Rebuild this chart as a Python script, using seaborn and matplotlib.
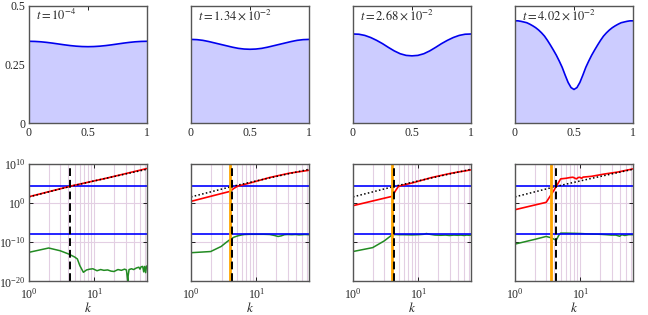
import numpy as np
import matplotlib
matplotlib.use("Agg")
import matplotlib.pyplot as plt
import matplotlib.ticker as mticker
import seaborn as sns

sns.set_theme(style="ticks")
plt.rcParams["font.family"] = ["Liberation Serif", "DejaVu Serif"]
plt.rcParams["mathtext.fontset"] = "stix"
plt.rcParams["font.size"] = 9

# ---------------- data ----------------
labels = [r"$t = 10^{-4}$", r"$t = 1.34\times10^{-2}$",
          r"$t = 2.68\times10^{-2}$", r"$t = 4.02\times10^{-2}$"]

# interface height profiles (top row)
x21 = [0.0, 0.05, 0.1, 0.15, 0.2, 0.25, 0.3, 0.35, 0.4, 0.45, 0.5,
       0.55, 0.6, 0.65, 0.7, 0.75, 0.8, 0.85, 0.9, 0.95, 1.0]
h1 = [0.349, 0.3484, 0.3468, 0.3443, 0.3411, 0.3375, 0.3339, 0.3307, 0.3282, 0.3266, 0.326,
      0.3266, 0.3282, 0.3307, 0.3339, 0.3375, 0.3411, 0.3443, 0.3468, 0.3484, 0.349]
h2 = [0.357, 0.356, 0.353, 0.348, 0.342, 0.336, 0.330, 0.324, 0.319, 0.316, 0.315,
      0.316, 0.319, 0.324, 0.330, 0.336, 0.342, 0.348, 0.353, 0.356, 0.357]
h3 = [0.380, 0.379, 0.374, 0.365, 0.353, 0.339, 0.323, 0.308, 0.296, 0.289, 0.287,
      0.289, 0.296, 0.308, 0.323, 0.339, 0.353, 0.365, 0.374, 0.379, 0.380]
x41 = [0.0, 0.025, 0.05, 0.075, 0.1, 0.125, 0.15, 0.175, 0.2, 0.225, 0.25,
       0.275, 0.3, 0.325, 0.35, 0.375, 0.4, 0.425, 0.45, 0.475, 0.5,
       0.525, 0.55, 0.575, 0.6, 0.625, 0.65, 0.675, 0.7, 0.725, 0.75,
       0.775, 0.8, 0.825, 0.85, 0.875, 0.9, 0.925, 0.95, 0.975, 1.0]
h4 = [0.436, 0.436, 0.434, 0.431, 0.428, 0.422, 0.415, 0.407, 0.397, 0.385, 0.371,
      0.353, 0.333, 0.312, 0.290, 0.265, 0.238, 0.205, 0.174, 0.152, 0.144,
      0.152, 0.174, 0.205, 0.238, 0.265, 0.290, 0.312, 0.333, 0.353, 0.371,
      0.385, 0.397, 0.407, 0.415, 0.422, 0.428, 0.431, 0.434, 0.436, 0.436]
profiles = [(x21, h1), (x21, h2), (x21, h3), (x41, h4)]

# spectra (bottom row), values are log10
k_ref = [1, 4.6, 16, 64]
ref_log = [1.55, 4.36, 6.4, 8.6]

k_red1 = [1, 4.6, 16, 64]
red1 = [1.6, 4.4, 6.4, 8.8]
k_red2 = [1, 2, 3, 4, 4.5, 5.2, 8, 16, 32, 64]
red2 = [0.41, 1.7, 2.45, 2.97, 3.7, 4.3, 5.1, 6.5, 7.6, 8.35]
k_red3 = [1, 2, 3, 4, 4.5, 5, 8, 16, 32, 64]
red3 = [-0.69, 0.51, 1.21, 1.7, 3.2, 4.3, 5.1, 6.5, 7.6, 8.45]
k_red4 = [1, 2, 3, 4, 5, 6, 7, 7.7, 8.7, 9.3, 9.8, 10.5, 11, 14.8, 23.6, 37.7, 64]
red4 = [-1.72, -0.53, 0.16, 3.4, 6.15, 6.3, 6.5, 6.57, 6.15, 6.5, 6.55, 6.3, 6.6, 6.8, 7.4, 7.9, 8.7]

k_grn1 = [1, 2, 3, 4, 4.35, 5, 5.5, 6, 6.8, 7.6, 8.5, 9.5, 11, 12.5, 14, 16, 18, 20, 23, 26,
          29, 31, 32.5, 33, 34, 37, 40, 44, 48, 50, 52, 55, 57, 59, 61, 63, 64]
grn1 = [-12.6, -11.5, -12.2, -13.0, -13.3, -13.8, -14.3, -16.0, -17.7, -17.1, -16.9, -16.8,
        -17.3, -17.0, -17.2, -17.1, -17.4, -17.5, -17.0, -17.2, -16.9, -17.1, -20.0, -18.5,
        -17.0, -16.8, -17.0, -16.6, -16.4, -16.9, -16.3, -16.2, -17.6, -16.2, -17.8, -16.1, -16.3]
k_grn2 = [1, 2, 2.9, 3.5, 4.1, 4.6, 5.2, 6, 6.6, 8, 10, 13, 16, 19, 21.5, 24, 27, 30, 35, 40,
          45, 50, 55, 64]
grn2 = [-12.7, -12.4, -11.1, -10.0, -9.15, -8.7, -8.4, -8.15, -8.05, -8.0, -8.0, -8.0, -8.05,
        -8.3, -8.55, -8.4, -8.1, -8.05, -8.1, -8.05, -8.15, -8.1, -8.05, -8.1]
k_grn3 = [1, 2, 3, 4, 4.5, 5, 6, 8, 10, 12, 13.3, 15, 18, 22, 26, 30, 35, 40, 45, 50, 55, 60, 64]
grn3 = [-12.4, -11.4, -9.7, -8.1, -8.05, -8.1, -8.1, -8.15, -8.1, -8.0, -7.8, -8.0, -8.2,
        -8.25, -8.2, -8.3, -8.2, -8.25, -8.2, -8.3, -8.2, -8.25, -8.2]
k_grn4 = [1, 2, 3, 3.6, 4, 4.3, 4.7, 5, 6, 8, 10, 13, 16, 20, 25, 30, 35, 40, 43, 48, 55, 64]
grn4 = [-10.5, -9.3, -8.55, -8.9, -9.3, -9.4, -8.2, -7.7, -7.7, -7.75, -7.8, -7.9, -7.95,
        -8.0, -8.1, -8.2, -8.2, -8.5, -8.1, -8.3, -8.1, -8.1]

reds = [(k_red1, red1), (k_red2, red2), (k_red3, red3), (k_red4, red4)]
greens = [(k_grn1, grn1), (k_grn2, grn2), (k_grn3, grn3), (k_grn4, grn4)]

upper_level = 4.36   # log10 of upper blue line
lower_level = -8.0   # log10 of lower blue line
k_dashed = [4.27, 4.27, 4.27, 4.27]
k_orange = [None, 4.0, 3.95, 3.5]

# ---------------- figure ----------------
W, H = 648, 315
fig = plt.figure(figsize=(W / 100, H / 100), dpi=100)
lefts = [29, 191, 353, 515]
aw, ah = 118, 117.5
spine_col = "#555555"
grid_col = "#e3cfe3"


def style(ax):
    for s in ax.spines.values():
        s.set_color(spine_col)
        s.set_linewidth(1.0)
    ax.tick_params(which="both", direction="in", top=True, right=True,
                   color="black", width=0.6, labelsize=8.5, pad=2.5)
    ax.tick_params(which="major", length=3)
    ax.tick_params(which="minor", length=0)


for i in range(4):
    # top row: interface profile
    ax = fig.add_axes([lefts[i] / W, 1 - 123.3 / H, aw / W, ah / H])
    xs, hs = profiles[i]
    ax.fill_between(xs, 0, hs, color="#ccccff", lw=0)
    sns.lineplot(x=xs, y=hs, ax=ax, color="#0000ee", lw=1.2, sort=False)
    ax.set_xlim(0, 1)
    ax.set_ylim(0, 0.5)
    ax.set_xticks([0, 0.5, 1])
    ax.set_xticklabels(["0", "0.5", "1"])
    ax.set_yticks([0, 0.25, 0.5])
    if i == 0:
        ax.set_yticklabels(["0", "0.25", "0.5"])
    else:
        ax.set_yticklabels([])
    ax.text(0.06, 0.915, labels[i], transform=ax.transAxes, fontsize=9,
            ha="left", va="center")
    style(ax)

    # bottom row: spectra
    ax = fig.add_axes([lefts[i] / W, 1 - 281.3 / H, aw / W, ah / H])
    ax.set_xscale("log")
    ax.set_yscale("log")
    ax.set_xlim(1, 64)
    ax.set_ylim(1e-20, 1e10)
    ax.xaxis.set_minor_locator(mticker.LogLocator(base=10, subs=np.arange(2, 10)))
    ax.set_yticks([1e-20, 1e-10, 1e0, 1e10])
    ax.yaxis.set_minor_locator(mticker.NullLocator())
    ax.grid(True, which="both", axis="x", color=grid_col, lw=0.8)
    ax.grid(True, which="major", axis="y", color=grid_col, lw=0.8)
    ax.set_axisbelow(True)

    kg, g = greens[i]
    sns.lineplot(x=kg, y=[10 ** v for v in g], ax=ax, color="#228b22", lw=1.1, sort=False)
    ax.axhline(10 ** upper_level, color="#0000ff", lw=1.2)
    ax.axhline(10 ** lower_level, color="#0000ff", lw=1.2)
    kr, r = reds[i]
    sns.lineplot(x=kr, y=[10 ** v for v in r], ax=ax, color="#ff0000", lw=1.2, sort=False)
    sns.lineplot(x=k_ref, y=[10 ** v for v in ref_log], ax=ax, color="black",
                 lw=1.1, ls=(0, (1, 1.5)), sort=False)
    if k_orange[i] is not None:
        ax.axvline(k_orange[i], color="#ffa500", lw=2.0)
    ax.axvline(k_dashed[i], color="black", lw=1.4, ls=(0, (4, 2)))
    if i != 0:
        ax.set_yticklabels([])
    ax.set_xlabel("$k$", fontsize=9.5, labelpad=0)
    style(ax)
    ax.tick_params(axis="x", which="major", pad=4)

fig.savefig("out.png", dpi=100)
